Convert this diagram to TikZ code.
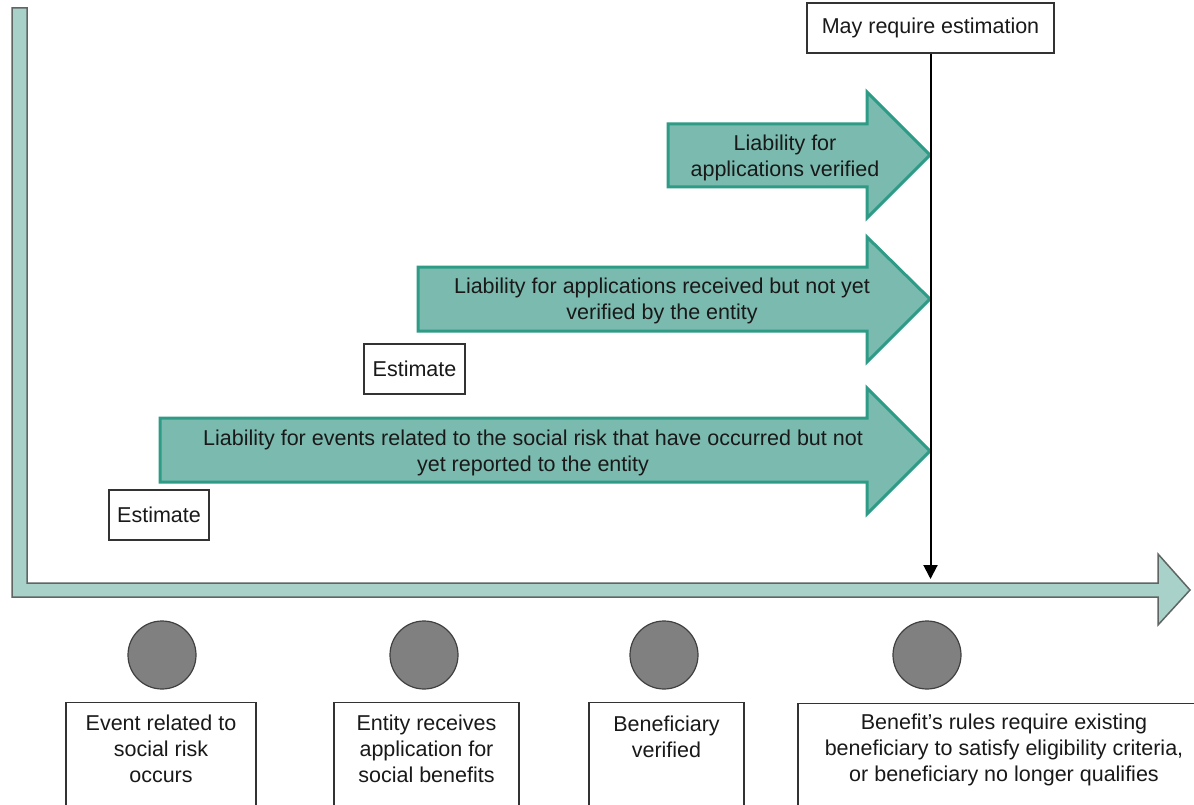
\documentclass[tikz,border=0pt]{standalone}
\usepackage{fontspec}
\setmainfont{Liberation Sans}
\usetikzlibrary{arrows.meta}
\definecolor{axisfill}{HTML}{A8D2C9}
\definecolor{axisdraw}{HTML}{5F6563}
\definecolor{liabfill}{HTML}{7BBBAF}
\definecolor{liabdraw}{HTML}{2E9B87}
\definecolor{dotfill}{HTML}{808080}
\begin{document}
\begin{tikzpicture}[x=1pt,y=-1pt,
  lbl/.style={font=\fontsize{21.5}{26}\selectfont, align=center, inner sep=0pt, text=black!90},
  boxed/.style={draw=black!80, line width=1.3pt, fill=white, inner sep=0pt},
  liab/.style={fill=liabfill, draw=liabdraw, line width=3pt, line join=miter},
  axisbar/.style={fill=axisfill, draw=axisdraw, line width=1.5pt, line join=miter},
  dot/.style={circle, fill=dotfill, draw=black!75, line width=1.2pt, minimum size=68pt, inner sep=0pt},
  pointer/.style={line width=2pt, -{Triangle[length=14pt,width=14pt]}}]
\useasboundingbox (0,0) rectangle (1194,805);
\clip (0,0) rectangle (1194,805);
\fill[white] (0,0) rectangle (1194,805);

% time axis
\draw[axisbar] (12,8) -- (27,8) -- (27,583) -- (1158,583) -- (1158,554) -- (1190,590)
  -- (1158,625) -- (1158,597) -- (12,597) -- cycle;

% liability arrows
\draw[liab] (668,124) -- (867,124) -- (867,92) -- (930,155) -- (867,218) -- (867,187) -- (668,187) -- cycle;
\node[lbl] (l1) at (785,158) {Liability for\\applications verified};

\draw[liab] (418,267) -- (867,267) -- (867,237) -- (930,299) -- (867,362) -- (867,331) -- (418,331) -- cycle;
\node[lbl] (l2) at (662,301) {Liability for applications received but not yet\\verified by the entity};

\draw[liab] (160,418) -- (867,418) -- (867,388) -- (930,451) -- (867,514) -- (867,482) -- (160,482) -- cycle;
\node[lbl] (l3) at (533,453) {Liability for events related to the social risk that have occurred but not\\yet reported to the entity};

% estimate boxes
\node[boxed, lbl, minimum width=101pt, minimum height=50pt] (est2) at (414.5,369) {Estimate};
\node[boxed, lbl, minimum width=100pt, minimum height=50pt] (est1) at (159,515) {Estimate};

% may require estimation
\node[boxed, lbl, minimum width=247pt, minimum height=50pt] (may) at (930.5,28) {May require estimation};
\coordinate (hit) at (930.5,579);
\draw[pointer] (may.south) -- (hit);

% event dots
\node[dot] (d1) at (162,655) {};
\node[dot] (d2) at (424,655) {};
\node[dot] (d3) at (664,655) {};
\node[dot] (d4) at (927,655) {};

% event boxes
\node[boxed, minimum width=190pt, minimum height=140pt, anchor=north] (b1) at (161,702) {};
\node[lbl] (t1) at (161,749) {Event related to\\social risk\\occurs};
\node[boxed, minimum width=185pt, minimum height=140pt, anchor=north] (b2) at (426.5,702) {};
\node[lbl] (t2) at (426.5,749) {Entity receives\\application for\\social benefits};
\node[boxed, minimum width=155pt, minimum height=140pt, anchor=north] (b3) at (666.5,702) {};
\node[lbl] (t3) at (666.5,737) {Beneficiary\\verified};
\node[boxed, minimum width=412pt, minimum height=140pt, anchor=north] (b4) at (1004,703) {};
\node[lbl] (t4) at (1004,750) {Benefit’s rules require existing\\beneficiary to satisfy eligibility criteria,\\or beneficiary no longer qualifies};
\end{tikzpicture}
\end{document}
